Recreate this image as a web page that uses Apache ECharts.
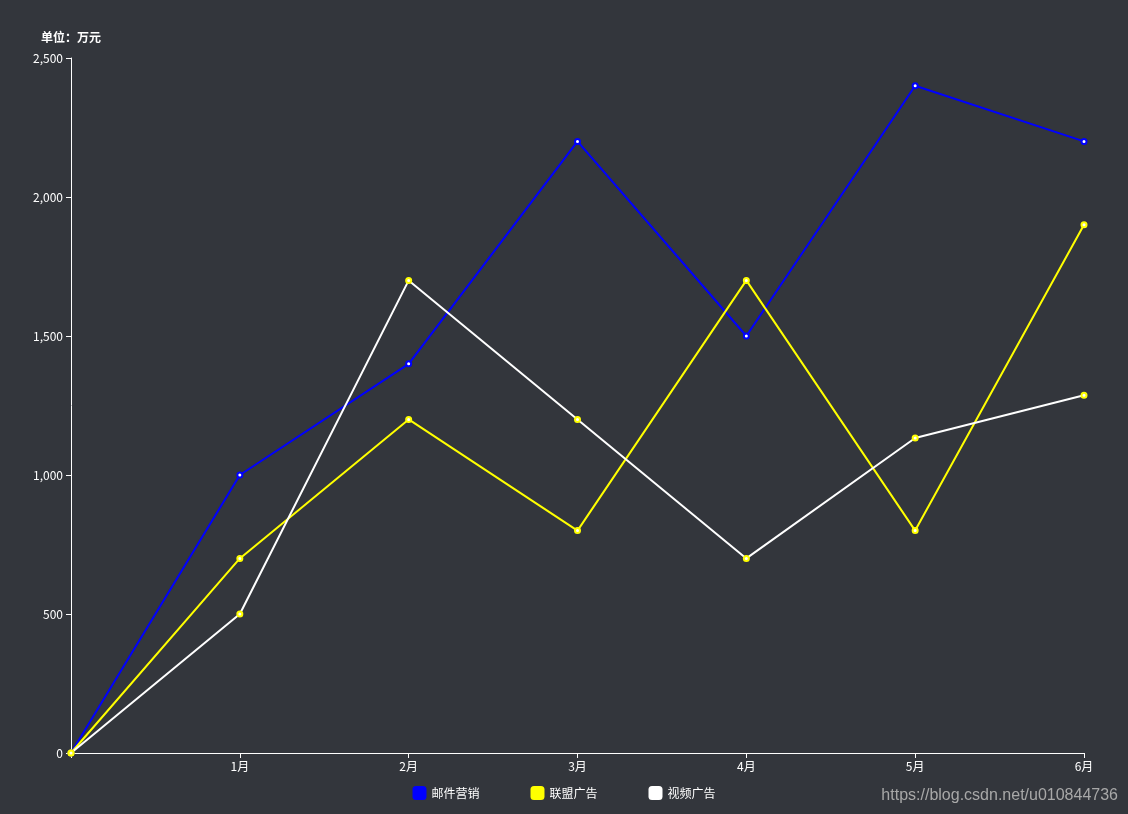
<!DOCTYPE html>
<html>
<head>
<meta charset="utf-8">
<script src="https://cdn.jsdelivr.net/npm/echarts@6/dist/echarts.min.js"></script>
<style>
html,body{margin:0;padding:0;background:#33363c;}
#main{width:1128px;height:814px;}
</style>
</head>
<body>
<div id="main"></div>
<script>
var categories = ['', '1月', '2月', '3月', '4月', '5月', '6月'];
var seriesNames = ['邮件营销', '联盟广告', '视频广告'];
var mailData = [0, 1000, 1400, 2200, 1500, 2400, 2200];
var allianceData = [0, 700, 1200, 800, 1700, 800, 1900];
var videoData = [0, 500, 1700, 1200, 700, 1133, 1287];
var yAxisName = '单位：万元';
var watermark = 'https://blog.csdn.net/u010844736';

var chart = echarts.init(document.getElementById('main'));
var font = '"Microsoft YaHei","Noto Sans CJK SC",sans-serif';
function mk(name, data, lineColor, pointColor) {
  return {
    name: name, type: 'line', data: data,
    symbol: 'emptyCircle', symbolSize: 5, showSymbol: true,
    lineStyle: { color: lineColor, width: 2 },
    itemStyle: { color: pointColor, borderWidth: 1.5 },
    emphasis: { disabled: true }
  };
}
chart.setOption({
  backgroundColor: '#33363c',
  animation: false,
  textStyle: { fontFamily: font },
  grid: { left: 71, right: 44, top: 58, bottom: 61, containLabel: false },
  legend: {
    bottom: 9, left: 'center', icon: 'roundRect', itemWidth: 14, itemHeight: 14,
    itemGap: 51,
    textStyle: { color: '#fff', fontSize: 12, fontFamily: font },
    data: [
      { name: seriesNames[0], itemStyle: { color: '#0000ff', borderWidth: 0 } },
      { name: seriesNames[1], itemStyle: { color: '#ffff00', borderWidth: 0 } },
      { name: seriesNames[2], itemStyle: { color: '#ffffff', borderWidth: 0 } }
    ]
  },
  xAxis: {
    type: 'category', data: categories, boundaryGap: false,
    axisLine: { lineStyle: { color: '#fff', width: 1 } },
    axisTick: { show: true, lineStyle: { color: '#fff' }, length: 5 },
    axisLabel: { color: '#fff', fontSize: 12, margin: 7 },
    splitLine: { show: false }
  },
  yAxis: {
    type: 'value', min: 0, max: 2500, interval: 500,
    name: yAxisName,
    nameTextStyle: { color: '#fff', fontSize: 12, fontWeight: 'bold', align: 'center', padding: [0, 0, 0, 0] },
    nameGap: 15,
    axisLine: { show: true, lineStyle: { color: '#fff', width: 1 } },
    axisTick: { show: true, lineStyle: { color: '#fff' }, length: 5 },
    axisLabel: { color: '#fff', fontSize: 12, margin: 8 },
    splitLine: { show: false }
  },
  graphic: [{
    type: 'text', right: 10, bottom: 10,
    style: { text: watermark, fill: '#a8a8a8', fontSize: 16, fontFamily: 'Arial, "Liberation Sans", sans-serif' }
  }],
  series: [
    mk(seriesNames[0], mailData, '#0000ff', '#0000ff'),
    mk(seriesNames[1], allianceData, '#ffff00', '#ffff00'),
    mk(seriesNames[2], videoData, '#ffffff', '#ffff00')
  ]
});
</script>
</body>
</html>
